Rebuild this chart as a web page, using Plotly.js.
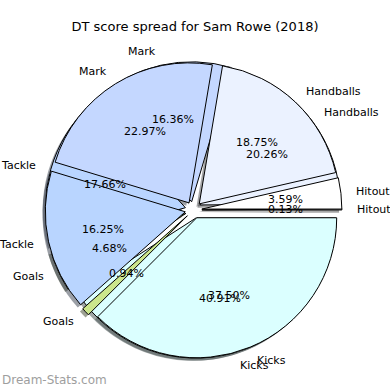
<!DOCTYPE html>
<html>
<head>
<meta charset="utf-8">
<script src="https://cdn.plot.ly/plotly-3.0.1.min.js"></script>
<style>html,body{margin:0;padding:0;background:#fff;}#chart{width:390px;height:390px;}</style>
</head>
<body>
<div id="chart"></div>
<script>
// ---- data (percent of DT score) ----
const categories = ['Hitout', 'Handballs', 'Mark', 'Tackle', 'Goals', 'Kicks'];
const seriesTop = [3.59, 18.75, 22.97, 16.25, 0.94, 37.50];     // drawn on top
const seriesBottom = [0.13, 20.26, 16.36, 17.66, 4.68, 40.91];  // drawn underneath
const sliceColors = ['#ffffff', '#ebf2ff', '#c4d7ff', '#b9d5ff', '#cbe68c', '#dbffff'];
const titleText = 'DT score spread for Sam Rowe (2018)';
const watermark = 'Dream-Stats.com';

// ---- geometry ----
const W = 390, H = 390;
const CX = 193.5, CY = 210;      // pie centre in px (from top-left)
const R = 140;                   // pie radius in px
const PULL = 0.06;               // explode fraction
const SH = 2.8;                  // shadow offset px
const half = R * (1 + PULL);

function domainFor(dx, dy) {
  return {
    x: [(CX + dx - half) / W, (CX + dx + half) / W],
    y: [(H - CY - dy - half) / H, (H - CY - dy + half) / H]
  };
}
function shadowColor(hex) {
  const n = parseInt(hex.slice(1), 16);
  const r = (n >> 16) & 255, g = (n >> 8) & 255, b = n & 255;
  return 'rgba(' + Math.round(r * 0.3) + ',' + Math.round(g * 0.3) + ',' + Math.round(b * 0.3) + ',0.5)';
}
function pieTrace(values, colors, dom, line) {
  const total = values.reduce((a, b) => a + b, 0);
  // plotly (counterclockwise) ends the first slice at `rotation`; start it at 3 o'clock instead
  const rot = 90 - values[0] / total * 360;
  return {
    type: 'pie', values: values, labels: categories, sort: false,
    direction: 'counterclockwise', rotation: rot, pull: PULL,
    textinfo: 'none', hoverinfo: 'skip', showlegend: false,
    domain: dom,
    marker: { colors: colors, line: line }
  };
}
const shCols = sliceColors.map(shadowColor);
const traces = [
  pieTrace(seriesBottom, shCols, domainFor(-SH, SH), { width: 0 }),
  pieTrace(seriesTop, shCols, domainFor(-SH, SH), { width: 0 }),
  pieTrace(seriesBottom, sliceColors, domainFor(0, 0), { color: '#000', width: 1 }),
  pieTrace(seriesTop, sliceColors, domainFor(0, 0), { color: '#000', width: 1 })
];

// ---- labels (computed from values, matplotlib-style placement) ----
const annotations = [];
const font = { family: 'DejaVu Sans', size: 11, color: '#000' };
function addLabels(values) {
  const total = values.reduce((a, b) => a + b, 0);
  let cum = 0;
  values.forEach((v, i) => {
    const a0 = cum / total * 360;
    cum += v;
    const a1 = cum / total * 360;
    const th = (a0 + a1) / 2 * Math.PI / 180;
    const c = Math.cos(th), s = Math.sin(th);
    const lr = (1.1 + PULL) * R, pr = (0.6 + PULL) * R;
    annotations.push({
      xref: 'paper', yref: 'paper', showarrow: false,
      x: (CX + lr * c) / W, y: (H - CY + lr * s) / H,
      xanchor: c > 0 ? 'left' : 'right', yanchor: 'middle',
      text: categories[i], font: font, borderpad: 0
    });
    annotations.push({
      xref: 'paper', yref: 'paper', showarrow: false,
      x: (CX + pr * c) / W, y: (H - CY + pr * s) / H,
      xanchor: 'center', yanchor: 'middle',
      text: (v / total * 100).toFixed(2) + '%', font: font, borderpad: 0
    });
  });
}
addLabels(seriesBottom);
addLabels(seriesTop);
annotations.push({
  xref: 'paper', yref: 'paper', showarrow: false,
  x: 0, y: 1 - 380 / H, xanchor: 'left', yanchor: 'middle',
  text: watermark, font: { family: 'DejaVu Sans', size: 12, color: '#9e9e9e' }
});

const layout = {
  width: W, height: H,
  margin: { l: 0, r: 0, t: 0, b: 0 },
  paper_bgcolor: '#fff', plot_bgcolor: '#fff',
  showlegend: false,
  title: {
    text: titleText, x: 195 / W, xref: 'paper', xanchor: 'center',
    y: 1 - 26 / H, yref: 'container', yanchor: 'middle',
    font: { family: 'DejaVu Sans', size: 13, color: '#000' }
  },
  annotations: annotations
};
Plotly.newPlot('chart', traces, layout, { staticPlot: true, displayModeBar: false });
</script>
</body>
</html>
